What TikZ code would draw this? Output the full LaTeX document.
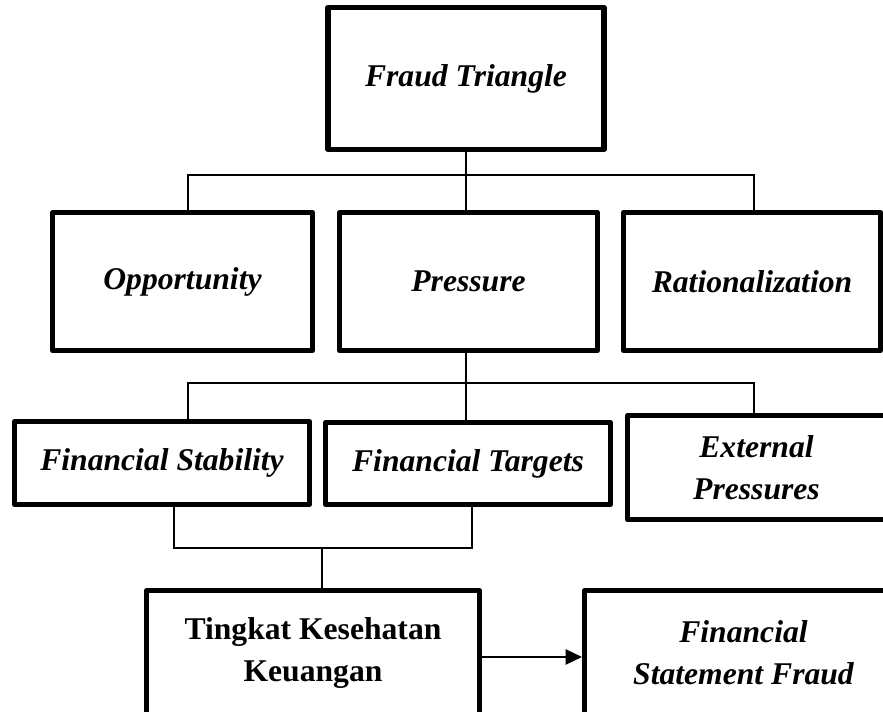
\documentclass[tikz,border=0pt]{standalone}
\usepackage{fontspec}
\setmainfont{Liberation Serif}
\usetikzlibrary{arrows.meta}

\begin{document}
\begin{tikzpicture}[
  x=0.03cm,y=-0.03cm,
  factor/.style={draw=black,line width=4.3pt,line join=round,fill=white,align=center,inner sep=0pt,font=\fontsize{27}{36}\selectfont\bfseries\itshape},
  link/.style={line width=1.1pt,draw=black},
  arrow/.style={-{Triangle[length=14pt,width=13pt]},line width=1.7pt,draw=black}
]
\useasboundingbox (0,0) rectangle (883,712);
\clip (0,0) rectangle (883,712);
\node[factor,minimum width=8.28cm,minimum height=4.26cm] (ft) at (466,78.5) {Fraud Triangle};
\node[factor,minimum width=7.8cm,minimum height=4.14cm] (opp) at (182.5,281.5) {Opportunity};
\node[factor,minimum width=7.74cm,minimum height=4.14cm] (pres) at (468.5,281.5) {Pressure};
\node[factor,minimum width=7.71cm,minimum height=4.14cm] (rat) at (752,281.5) {Rationalization};
\node[factor,minimum width=8.85cm,minimum height=2.49cm] (fs) at (162,463) {Financial Stability};
\node[factor,minimum width=8.55cm,minimum height=2.46cm] (ftg) at (468,463.5) {Financial Targets};
\node[factor,minimum width=7.74cm,minimum height=3.12cm] (ep) at (756.5,467.5) {External\\Pressures};
\node[factor,minimum width=9.99cm,minimum height=3.75cm,font=\fontsize{27}{36}\selectfont\bfseries] (tkk) at (313,653) {Tingkat Kesehatan\\Keuangan};
\node[factor,minimum width=9.54cm,minimum height=3.75cm] (fsf) at (743.5,653) {Financial\\Statement Fraud};
\coordinate (j1) at (466,175);
\coordinate (a1) at (188,175);
\coordinate (a2) at (754,175);
\coordinate (j2) at (466,383);
\coordinate (b1) at (188,383);
\coordinate (b2) at (754,383);
\coordinate (c1) at (174,548);
\coordinate (c2) at (472,548);
\coordinate (m) at (322,548);
\draw[link] (ft.south -| j1) -- (j1);
\draw[link] (a1 |- opp.north) -- (a1) -- (a2) -- (a2 |- rat.north);
\draw[link] (j1) -- (j1 |- pres.north);
\draw[link] (pres.south -| j2) -- (j2);
\draw[link] (b1 |- fs.north) -- (b1) -- (b2) -- (b2 |- ep.north);
\draw[link] (j2) -- (j2 |- ftg.north);
\draw[link] (c1 |- fs.south) -- (c1) -- (c2) -- (c2 |- ftg.south);
\draw[link] (m) -- (m |- tkk.north);
\draw[arrow] ([yshift=-0.12cm]tkk.east) -- ([yshift=-0.12cm]fsf.west);
\end{tikzpicture}
\end{document}
